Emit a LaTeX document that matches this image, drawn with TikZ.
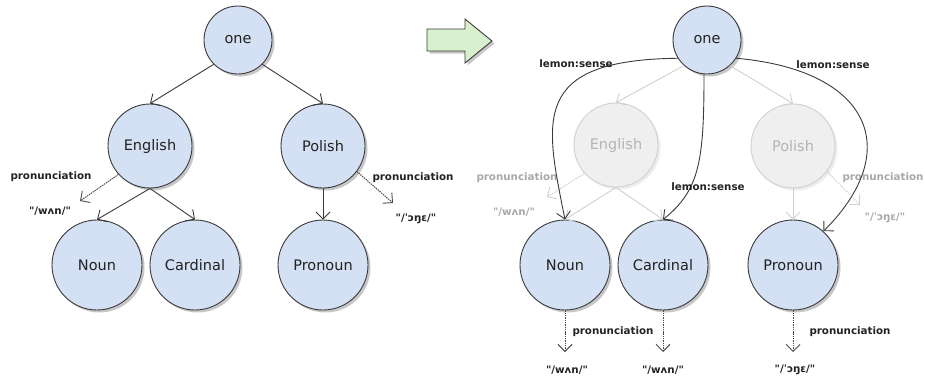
\documentclass[tikz,border=0pt]{standalone}
\usepackage{fontspec}
\setmainfont{DejaVu Sans}
\usetikzlibrary{arrows.meta,shadows}
\definecolor{nodefill}{HTML}{D4E0F3}
\definecolor{linec}{HTML}{3A3A3A}
\definecolor{txt}{HTML}{222222}
\definecolor{fadefill}{HTML}{EFEFEF}
\definecolor{fadeline}{HTML}{D0D0D0}
\definecolor{fadetext}{HTML}{B4B4B4}
\definecolor{fadelab}{HTML}{A8A8A8}
\definecolor{dotc}{HTML}{4A4A4A}
\definecolor{arrowgreen}{HTML}{D8F0CE}
\newcommand{\qq}{\textquotedbl}
\begin{document}
\begin{tikzpicture}[x=1pt,y=-1pt,
  every node/.style={inner sep=0pt},
  ent/.style={circle,draw=linec,line width=0.9pt,fill=nodefill,text=txt,
    font=\fontsize{14.5}{16}\selectfont},
  sh/.style={drop shadow={shadow xshift=2.5pt,shadow yshift=-2.5pt,opacity=0.22,fill=black}},
  shfade/.style={drop shadow={shadow xshift=2.5pt,shadow yshift=-2.5pt,opacity=0.07,fill=black}},
  nodeone/.style={ent,minimum size=68pt},
  nodemid/.style={ent,minimum size=84pt},
  nodebig/.style={ent,minimum size=90pt},
  faded/.style={fill=fadefill,draw=fadeline,text=fadetext},
  lab/.style={font=\bfseries\fontsize{10.3}{12}\selectfont,text=txt},
  fadelabel/.style={lab,text=fadelab},
  arr/.style={draw=linec,line width=0.9pt,-{Straight Barb[length=7pt,width=14pt]}},
  fadearr/.style={arr,draw=fadeline},
  pron/.style={draw=dotc,line width=1pt,dash pattern=on 1.4pt off 0.9pt,-{Straight Barb[length=7pt,width=14pt,line width=0.9pt]}},
  fadepron/.style={pron,draw=fadeline},
]
\path[use as bounding box] (0,0) rectangle (925,376);

% ---------------- left tree ----------------
\node[nodeone,sh] (one1) at (238,40) {one};
\node[nodemid,sh] (eng1) at (150,146) {English};
\node[nodemid,sh] (pol1) at (323,146) {Polish};
\node[nodebig,sh] (noun1) at (97,265) {Noun};
\node[nodebig,sh] (card1) at (195,265) {Cardinal};
\node[nodebig,sh] (pron1) at (323,265) {Pronoun};

\draw[arr] (one1.225) -- (eng1.north);
\draw[arr] (one1.315) -- (pol1.north);
\draw[arr] (eng1.south) -- (noun1.north);
\draw[arr] (eng1.south) -- (card1.north);
\draw[arr] (pol1.south) -- (pron1.north);

\coordinate (pe1) at (80,201);
\coordinate (pp1) at (393,203);
\draw[pron] (eng1.222) -- (pe1);
\draw[pron] (pol1.323) -- (pp1);
\node[lab] (le1) at (51,177) {pronunciation};
\node[lab] (ie1) at (50,211) {\qq/wʌn/\qq};
\node[lab] (lp1) at (413,178) {pronunciation};
\node[lab] (ip1) at (416,219) {\qq/ˈɔŋɛ/\qq};

% ---------------- big arrow ----------------
\draw[draw=linec,line width=0.9pt,fill=arrowgreen,sh]
  (427,29) -- (465,29) -- (465,19) -- (492,41) -- (465,63) -- (465,51) -- (427,51) -- cycle;

% ---------------- right tree ----------------
\node[nodeone,sh] (one2) at (707,40) {one};
\node[nodemid,faded,shfade] (eng2) at (616,145) {English};
\node[nodemid,faded,shfade] (pol2) at (793,146) {Polish};
\node[nodebig,sh] (noun2) at (565,265) {Noun};
\node[nodebig,sh] (card2) at (663,265) {Cardinal};
\node[nodebig,sh] (pron2) at (793,265) {Pronoun};

\draw[fadearr] (one2.228) -- (eng2.north);
\draw[fadearr] (one2.312) -- (pol2.north);
\draw[fadearr] (eng2.south) -- (noun2.north);
\draw[fadearr] (eng2.south) -- (card2.north);
\draw[fadearr] (pol2.south) -- (pron2.north);

\coordinate (pe2) at (547,197);
\coordinate (pp2) at (860,205);
\draw[fadepron] (eng2.222) -- (pe2);
\draw[fadepron] (pol2.323) -- (pp2);
\node[fadelabel] (le2) at (517,178) {pronunciation};
\node[fadelabel] (ie2) at (514,212) {\qq/wʌn/\qq};
\node[fadelabel] (lp2) at (883,178) {pronunciation};
\node[fadelabel] (ip2) at (885,218) {\qq/ˈɔŋɛ/\qq};

% lemon:sense curves
\draw[arr] (one2.212) .. controls (530,60) and (545,120) .. (noun2.north);
\draw[arr] (one2.265) .. controls (704,160) and (700,190) .. (card2.north);
\draw[arr] (one2.328) .. controls (870,70) and (905,150) .. (pron2.48);
\node[lab] (ls1) at (576,64) {lemon:sense};
\node[lab] (ls2) at (708,187) {lemon:sense};
\node[lab] (ls3) at (833,65) {lemon:sense};

% bottom pronunciations
\coordinate (bn) at (565,352);
\coordinate (bc) at (663,352);
\coordinate (bp) at (793,352);
\draw[pron] (noun2.south) -- (bn);
\draw[pron] (card2.south) -- (bc);
\draw[pron] (pron2.south) -- (bp);
\node[lab] (lb1) at (613,332) {pronunciation};
\node[lab] (lb2) at (850,332) {pronunciation};
\node[lab] (ib1) at (567,370) {\qq/wʌn/\qq};
\node[lab] (ib2) at (663,370) {\qq/wʌn/\qq};
\node[lab] (ib3) at (795,370) {\qq/ˈɔŋɛ/\qq};
\end{tikzpicture}
\end{document}
